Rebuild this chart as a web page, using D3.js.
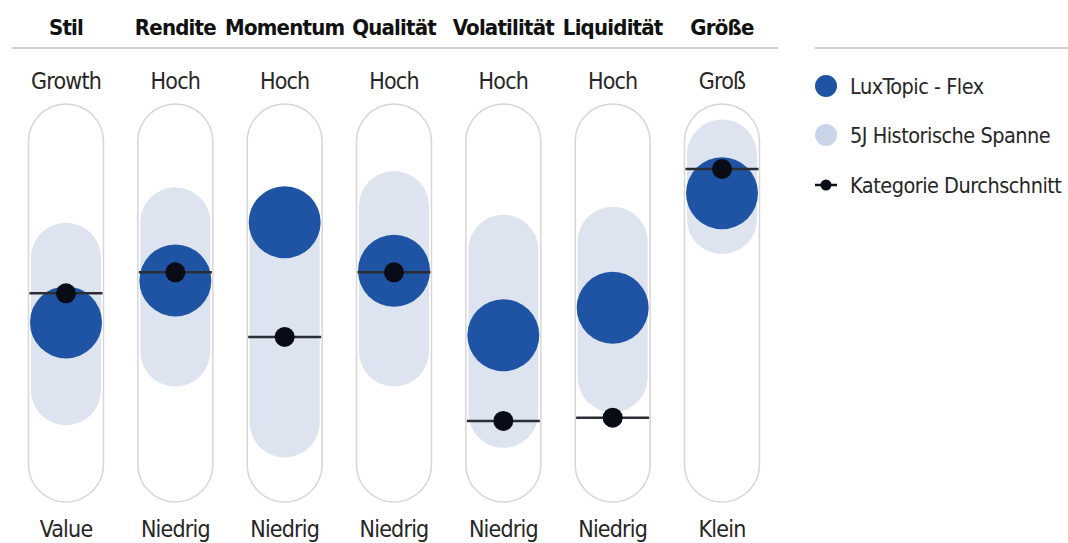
<!DOCTYPE html>
<html>
<head>
<meta charset="utf-8">
<script src="https://cdn.jsdelivr.net/npm/d3@7"></script>
<style>
  body { margin: 0; background: #fff; }
  svg { display: block; }
  text { font-family: "DejaVu Sans Condensed", "DejaVu Sans", sans-serif; font-stretch: condensed; fill: #262626; }
</style>
</head>
<body>
<svg id="chart" width="1068" height="543"></svg>
<script>
// Stilbox data, values on a 0 (unten) .. 100 (oben) scale
const factors = ['Stil', 'Rendite', 'Momentum', 'Qualität', 'Volatilität', 'Liquidität', 'Größe'];
const topLabels = ['Growth', 'Hoch', 'Hoch', 'Hoch', 'Hoch', 'Hoch', 'Groß'];
const bottomLabels = ['Value', 'Niedrig', 'Niedrig', 'Niedrig', 'Niedrig', 'Niedrig', 'Klein'];
const fundValues = [44, 57, 75, 60, 40, 48.5, 84];
const categoryAvg = [53, 59.5, 39.5, 59.5, 13.5, 14.5, 91.5];
const rangeHigh = [64, 75, 75, 80, 66.5, 69, 96];
const rangeLow = [23, 35, 13, 35, 16, 27, 76];
const legendItems = ['LuxTopic - Flex', '5J Historische Spanne', 'Kategorie Durchschnitt'];

const blue = '#1f54a4';
const light = '#dde4ef';
const capW = 75, capTop = 104, capBottom = 502;
const fundR = 36, bandR = 35;

const svg = d3.select('#chart');

const x = d3.scalePoint()
  .domain(factors)
  .range([66, 722]);

const y = d3.scaleLinear()
  .domain([0, 100])
  .range([capBottom - capW / 2, capTop + capW / 2]);

// header lines
svg.append('line')
  .attr('x1', 12).attr('x2', 778).attr('y1', 48).attr('y2', 48)
  .attr('stroke', '#cfcfcf').attr('stroke-width', 2);
svg.append('line')
  .attr('x1', 815).attr('x2', 1068).attr('y1', 48).attr('y2', 48)
  .attr('stroke', '#cfcfcf').attr('stroke-width', 2);

svg.selectAll('.head')
  .data(factors)
  .enter()
  .append('text')
  .attr('class', 'head')
  .attr('x', d => x(d))
  .attr('y', 35)
  .attr('text-anchor', 'middle')
  .attr('font-size', 22)
  .attr('font-weight', 'bold')
  .attr('letter-spacing', -0.8)
  .style('fill', '#111')
  .text(d => d);

svg.selectAll('.top')
  .data(factors)
  .enter()
  .append('text')
  .attr('class', 'top')
  .attr('x', d => x(d))
  .attr('y', 89)
  .attr('text-anchor', 'middle')
  .attr('font-size', 23)
  .attr('letter-spacing', -0.8)
  .text((d, i) => topLabels[i]);

svg.selectAll('.bottom')
  .data(factors)
  .enter()
  .append('text')
  .attr('class', 'bottom')
  .attr('x', d => x(d))
  .attr('y', 537)
  .attr('text-anchor', 'middle')
  .attr('font-size', 23)
  .attr('letter-spacing', -0.8)
  .text((d, i) => bottomLabels[i]);

const cols = svg.selectAll('.col')
  .data(factors)
  .enter()
  .append('g')
  .attr('class', 'col')
  .attr('transform', d => `translate(${x(d)},0)`);

// capsule outline
cols.append('rect')
  .attr('x', -capW / 2)
  .attr('y', capTop)
  .attr('width', capW)
  .attr('height', capBottom - capTop)
  .attr('rx', capW / 2)
  .attr('fill', '#fff')
  .attr('stroke', '#d6d6d6')
  .attr('stroke-width', 1.5);

// 5y range band
cols.append('rect')
  .attr('x', -bandR)
  .attr('y', (d, i) => y(rangeHigh[i]) - bandR)
  .attr('width', bandR * 2)
  .attr('height', (d, i) => y(rangeLow[i]) - y(rangeHigh[i]) + bandR * 2)
  .attr('rx', bandR)
  .attr('fill', light);

// fund
cols.append('circle')
  .attr('cy', (d, i) => y(fundValues[i]))
  .attr('r', fundR)
  .attr('fill', blue);

// category average
cols.append('line')
  .attr('x1', -capW / 2 + 1)
  .attr('x2', capW / 2 - 1)
  .attr('y1', (d, i) => y(categoryAvg[i]))
  .attr('y2', (d, i) => y(categoryAvg[i]))
  .attr('stroke', '#2a2d33')
  .attr('stroke-width', 2.5);
cols.append('circle')
  .attr('cy', (d, i) => y(categoryAvg[i]))
  .attr('r', 10)
  .attr('fill', '#080c16');

// legend
const legend = svg.append('g').attr('transform', 'translate(826,0)');
const ly = [86, 135, 185];
legend.append('circle').attr('cy', ly[0]).attr('r', 11).attr('fill', blue);
legend.append('circle').attr('cy', ly[1]).attr('r', 11).attr('fill', '#c8d5e8');
legend.append('line')
  .attr('x1', -11).attr('x2', 11).attr('y1', ly[2]).attr('y2', ly[2])
  .attr('stroke', '#111').attr('stroke-width', 2.5);
legend.append('circle').attr('cy', ly[2]).attr('r', 5.5).attr('fill', '#080c16');
legend.selectAll('.ltext')
  .data(legendItems)
  .enter()
  .append('text')
  .attr('class', 'ltext')
  .attr('x', 24)
  .attr('y', (d, i) => ly[i] + 8)
  .attr('font-size', 21.5)
  .attr('letter-spacing', -0.5)
  .text(d => d);
</script>
</body>
</html>
